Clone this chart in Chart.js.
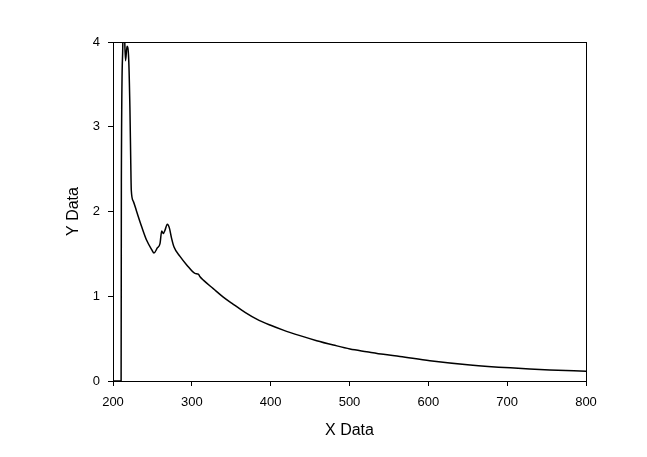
<!DOCTYPE html>
<html>
<head>
<meta charset="utf-8">
<script src="https://cdn.jsdelivr.net/npm/chart.js@4.4.0/dist/chart.umd.min.js"></script>
<style>
  html, body { margin: 0; padding: 0; background: #fff; }
  #wrap { width: 647px; height: 457px; }
</style>
</head>
<body>
<div id="wrap"><canvas id="chart"></canvas></div>
<script>
// spectrum trace
const xValues = [200, 210.3, 210.6, 212.3, 213.4, 214.6, 215.9, 217.8, 219.9, 221.5, 222.5, 223.2,
  225.8, 230, 236.4, 242.7, 249.1, 252, 256.2, 259.6, 261.8, 263.8, 266, 268.9, 271.4, 274.4, 277.4,
  285, 293.5, 304, 308.2, 310.4, 314.6, 327.2, 339.9, 352.6, 367.5, 382.3, 399.2, 416, 437.2, 458.4,
  479.5, 500.6, 521.8, 543, 564, 602, 653, 704, 754, 800];
const yValues = [0, 0, 2.34, 3.9, 4.5, 4.1, 3.78, 3.95, 3.8, 3.2, 2.6, 2.25,
  2.12, 2.0, 1.82, 1.66, 1.55, 1.51, 1.57, 1.62, 1.77, 1.74, 1.78, 1.85, 1.81, 1.68, 1.58,
  1.47, 1.37, 1.27, 1.26, 1.23, 1.19, 1.09, 0.99, 0.905, 0.81, 0.73, 0.66, 0.60, 0.535, 0.476,
  0.425, 0.378, 0.346, 0.315, 0.29, 0.24, 0.19, 0.155, 0.13, 0.115];
const xTicks = [200, 300, 400, 500, 600, 700, 800];
const yTicks = [0, 1, 2, 3, 4];

const points = xValues.map((x, i) => ({ x: x, y: yValues[i] }));

const frame = {
    id: 'frame',
    afterDraw(chart) {
        const a = chart.chartArea;
        const ctx = chart.ctx;
        ctx.save();
        ctx.strokeStyle = '#000';
        ctx.lineWidth = 1;
        ctx.strokeRect(Math.round(a.left) + 0.5, Math.round(a.top) + 0.5,
            Math.round(a.right - a.left), Math.round(a.bottom - a.top));
        ctx.restore();
    }
};

Chart.defaults.font.family = '"Liberation Sans", Arial, sans-serif';
Chart.defaults.color = '#000';

new Chart(document.getElementById('chart'), {
    type: 'scatter',
    data: {
        datasets: [{
            data: points,
            showLine: true,
            borderColor: '#000',
            borderWidth: 1.5,
            pointRadius: 0,
            cubicInterpolationMode: 'monotone'
        }]
    },
    options: {
        responsive: true,
        maintainAspectRatio: false,
        animation: false,
        layout: { padding: { left: 60, top: 42, right: 61, bottom: 10 } },
        plugins: { legend: { display: false }, tooltip: { enabled: false } },
        scales: {
            x: {
                type: 'linear',
                min: 200,
                max: 800,
                afterBuildTicks: s => { s.ticks = xTicks.map(v => ({ value: v })); },
                afterFit: s => { s.height = 66; },
                ticks: { font: { size: 13 }, padding: 9, maxRotation: 0 },
                grid: { drawOnChartArea: false, drawTicks: true, tickLength: 5, color: '#000' },
                border: { color: '#000' },
                title: { display: true, text: 'X Data', font: { size: 16 }, padding: 7 }
            },
            y: {
                type: 'linear',
                min: 0,
                max: 4,
                afterBuildTicks: s => { s.ticks = yTicks.map(v => ({ value: v })); },
                afterFit: s => { s.width = 53; },
                ticks: { font: { size: 13 }, padding: 8 },
                grid: { drawOnChartArea: false, drawTicks: true, tickLength: 5, color: '#000' },
                border: { color: '#000' },
                title: { display: true, text: 'Y Data', font: { size: 16 }, padding: 4 }
            }
        }
    },
    plugins: [frame]
});
</script>
</body>
</html>
